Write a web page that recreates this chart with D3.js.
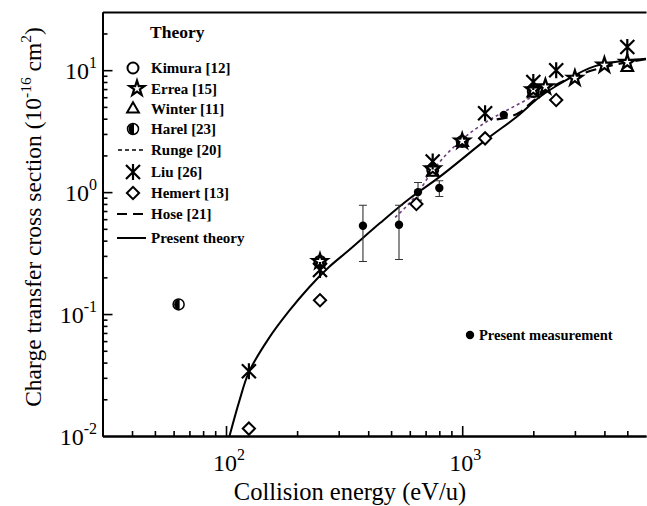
<!DOCTYPE html>
<html>
<head>
<meta charset="utf-8">
<script src="https://cdn.jsdelivr.net/npm/d3@7"></script>
<style>
  body { margin: 0; background: #fff; }
  svg { display: block; font-family: "Liberation Serif", "Times New Roman", serif; }
</style>
</head>
<body>
<div id="chart"></div>
<script>
// ---- data (energy in eV/u, cross section in 1e-16 cm^2)
const kimuraE = [250, 750, 1000, 2000];
const kimuraV = [0.27, 1.52, 2.6, 6.7];

const erreaE = [250, 750, 1000, 2000, 2250, 3000, 4000, 5000];
const erreaV = [0.27, 1.55, 2.62, 6.9, 7.3, 8.6, 11.0, 11.6];

const winterE = [750, 1000, 2000, 5000];
const winterV = [1.45, 2.55, 6.5, 10.5];

const harelE = [63, 250];
const harelV = [0.12, 0.265];

const liuE = [125, 250, 750, 1250, 2000, 2500, 5000];
const liuV = [0.034, 0.23, 1.78, 4.43, 8.0, 10.0, 15.5];

const hemertE = [125, 250, 640, 1250, 2500];
const hemertV = [0.0115, 0.13, 0.8, 2.76, 5.7];

const measE = [250, 380, 540, 650, 800, 1500, 2000];
const measV = [0.26, 0.53, 0.54, 1.0, 1.08, 4.3, 6.6];
const measLo = [null, 0.27, 0.28, 0.86, 0.92, null, null];
const measHi = [null, 0.78, 0.78, 1.2, 1.24, null, null];

const rungeE = [520, 640, 750, 980, 1270, 1645, 2000];
const rungeV = [0.62, 0.95, 1.5, 2.62, 3.78, 5.0, 6.1];

const hoseE = [1400, 1750, 2000, 2500, 3000, 4000, 6000];
const hoseV = [3.95, 4.5, 5.6, 7.6, 8.9, 10.6, 12.3];

const theoryE = [102, 114, 125, 152, 185, 225, 273, 332, 450, 601, 805, 1286, 1702, 2135, 2673, 3650, 6000];
const theoryV = [0.009, 0.0195, 0.0334, 0.0635, 0.106, 0.166, 0.243, 0.335, 0.56, 0.89, 1.34, 2.77, 4.15, 6.05, 8.0, 10.8, 12.4];

const xMajor = [100, 1000];
const yMajor = [0.1, 1, 10];
const xLabels = [[100, "2"], [1000, "3"]];
const yLabels = [[0.01, "-2"], [0.1, "-1"], [1, "0"], [10, "1"]];

const width = 647, height = 506;
const mLeft = 102.5, mRight = 646, mTop = 12, mBottom = 436;

const svg = d3.select("#chart").append("svg")
  .attr("width", width)
  .attr("height", height)
  .style("background", "#fff");

const x = d3.scaleLog().domain([30, 6000]).range([mLeft, mRight]);
const y = d3.scaleLog().domain([0.01, 30]).range([mBottom, mTop]);

// minor ticks
let xMinor = [], yMinor = [];
[10, 100, 1000].forEach(d => { for (let k = 2; k <= 9; k++) { let v = d * k; if (v > 30 && v < 6000) xMinor.push(v); } });
[0.01, 0.1, 1, 10].forEach(d => { for (let k = 2; k <= 9; k++) { let v = d * k; if (v < 30) yMinor.push(v); } });

// axes (ticks point inside)
function axisG(ax, tx, ty) {
  let g = svg.append("g").attr("transform", `translate(${tx},${ty})`).call(ax);
  g.selectAll("line").attr("stroke", "#000").attr("stroke-width", 1.6);
  g.select(".domain").attr("stroke", "#000").attr("stroke-width", 2);
  return g;
}
axisG(d3.axisBottom(x).tickValues(xMajor).tickSize(-10).tickSizeOuter(0).tickFormat(""), 0, mBottom);
axisG(d3.axisBottom(x).tickValues(xMinor).tickSize(-5).tickSizeOuter(0).tickFormat(""), 0, mBottom);
axisG(d3.axisLeft(y).tickValues(yMajor).tickSize(-10).tickSizeOuter(0).tickFormat(""), mLeft, 0);
axisG(d3.axisLeft(y).tickValues(yMinor).tickSize(-5).tickSizeOuter(0).tickFormat(""), mLeft, 0);
axisG(d3.axisTop(x).tickValues([]).tickSizeOuter(0), 0, mTop);

// tick labels with superscripts
xLabels.forEach(([v, p]) => {
  let t = svg.append("text").attr("x", x(v) + 3).attr("y", 471)
    .attr("text-anchor", "middle").attr("font-size", 24);
  t.append("tspan").text("10");
  t.append("tspan").attr("dy", -11).attr("font-size", 16).text(p);
});
yLabels.forEach(([v, p]) => {
  let t = svg.append("text").attr("x", 97).attr("y", y(v) + 9)
    .attr("text-anchor", "end").attr("font-size", 24);
  t.append("tspan").text("10");
  t.append("tspan").attr("dy", -11).attr("font-size", 16).text(p);
});

// axis titles
svg.append("text").attr("x", 350).attr("y", 500).attr("text-anchor", "middle")
  .attr("font-size", 24.5).text("Collision energy (eV/u)");

let yt = svg.append("text").attr("transform", "translate(41,217) rotate(-90)")
  .attr("text-anchor", "middle").attr("font-size", 23.5);
yt.append("tspan").text("Charge transfer cross section (10");
yt.append("tspan").attr("dy", -10).attr("font-size", 15.5).text("-16");
yt.append("tspan").attr("dy", 10).text(" cm");
yt.append("tspan").attr("dy", -10).attr("font-size", 15.5).text("2");
yt.append("tspan").attr("dy", 10).text(")");

// clip for the curves
svg.append("clipPath").attr("id", "plotclip").append("rect")
  .attr("x", mLeft).attr("y", mTop).attr("width", mRight - mLeft + 2).attr("height", mBottom - mTop);

const plot = svg.append("g").attr("clip-path", "url(#plotclip)");

function curve(E, V, c) {
  return d3.line().x((d, i) => x(E[i])).y((d, i) => y(V[i])).curve(c || d3.curveMonotoneX)(E);
}

plot.append("path").attr("d", curve(theoryE, theoryV, d3.curveCatmullRom.alpha(0.5)))
  .attr("fill", "none").attr("stroke", "#000").attr("stroke-width", 2);
plot.append("path").attr("d", curve(hoseE, hoseV))
  .attr("fill", "none").attr("stroke", "#000").attr("stroke-width", 2.2).attr("stroke-dasharray", "11,6");
plot.append("path").attr("d", curve(rungeE, rungeV))
  .attr("fill", "none").attr("stroke", "#6e3f7e").attr("stroke-width", 1.6).attr("stroke-dasharray", "3,3");

// markers
function drawMark(g, type, cx, cy) {
  if (type == "circle") {
    g.append("circle").attr("cx", cx).attr("cy", cy).attr("r", 5.5)
      .attr("fill", "#fff").attr("stroke", "#000").attr("stroke-width", 2);
  } else if (type == "star") {
    g.append("path").attr("d", d3.symbol(d3.symbolStar, 70)()).attr("transform", `translate(${cx},${cy})`)
      .attr("fill", "#fff").attr("stroke", "#000").attr("stroke-width", 2.2);
  } else if (type == "triangle") {
    g.append("path").attr("d", d3.symbol(d3.symbolTriangle, 60)()).attr("transform", `translate(${cx},${cy})`)
      .attr("fill", "#fff").attr("stroke", "#000").attr("stroke-width", 2);
  } else if (type == "diamond") {
    g.append("path").attr("d", d3.symbol(d3.symbolSquare, 75)()).attr("transform", `translate(${cx},${cy}) rotate(45)`)
      .attr("fill", "#fff").attr("stroke", "#000").attr("stroke-width", 2);
  } else if (type == "half") {
    g.append("circle").attr("cx", cx).attr("cy", cy).attr("r", 5.5)
      .attr("fill", "#fff").attr("stroke", "#000").attr("stroke-width", 1.5);
    g.append("path").attr("d", `M${cx + 1},${cy - 5.5}A5.5,5.5 0 0 0 ${cx + 1},${cy + 5.5}Z`).attr("fill", "#000");
  } else if (type == "asterisk") {
    g.append("path")
      .attr("d", `M${cx},${cy - 8}V${cy + 8}M${cx - 7},${cy - 7}L${cx + 7},${cy + 7}M${cx - 7},${cy + 7}L${cx + 7},${cy - 7}`)
      .attr("stroke", "#000").attr("stroke-width", 2.2).attr("fill", "none");
  } else if (type == "dot") {
    g.append("circle").attr("cx", cx).attr("cy", cy).attr("r", 4.2).attr("fill", "#000");
  }
}

const marks = svg.append("g");

// error bars for the measurement
measE.forEach((e, i) => {
  if (measLo[i] == null) return;
  let cx = x(e);
  marks.append("path")
    .attr("d", `M${cx},${y(measLo[i])}V${y(measHi[i])}M${cx - 4},${y(measLo[i])}H${cx + 4}M${cx - 4},${y(measHi[i])}H${cx + 4}`)
    .attr("stroke", "#333").attr("stroke-width", 1.1).attr("fill", "none");
});

measE.forEach((e, i) => drawMark(marks, "dot", x(e), y(measV[i])));
hemertE.forEach((e, i) => drawMark(marks, "diamond", x(e), y(hemertV[i])));
harelE.forEach((e, i) => drawMark(marks, "half", x(e), y(harelV[i])));
kimuraE.forEach((e, i) => drawMark(marks, "circle", x(e), y(kimuraV[i])));
winterE.forEach((e, i) => drawMark(marks, "triangle", x(e), y(winterV[i])));
erreaE.forEach((e, i) => drawMark(marks, "star", x(e), y(erreaV[i])));
liuE.forEach((e, i) => drawMark(marks, "asterisk", x(e), y(liuV[i])));

// legend
const legend = svg.append("g").attr("font-weight", "bold").attr("font-size", 15);
legend.append("text").attr("x", 150).attr("y", 38).attr("font-size", 17.5).text("Theory");

const legendItems = [
  ["circle", "Kimura [12]"],
  ["star", "Errea [15]"],
  ["triangle", "Winter [11]"],
  ["half", "Harel [23]"],
  ["dotted", "Runge [20]"],
  ["asterisk", "Liu [26]"],
  ["diamond", "Hemert [13]"],
  ["dashed", "Hose [21]"],
  ["solid", "Present theory"]
];
const legendY = [68, 88.5, 109, 129, 150, 172, 193, 214, 238];

legendItems.forEach(([type, label], i) => {
  let ly = legendY[i];
  if (type == "dotted") {
    legend.append("line").attr("x1", 118).attr("x2", 146).attr("y1", ly).attr("y2", ly)
      .attr("stroke", "#000").attr("stroke-width", 1.6).attr("stroke-dasharray", "4,3");
  } else if (type == "dashed") {
    legend.append("line").attr("x1", 117).attr("x2", 143).attr("y1", ly).attr("y2", ly)
      .attr("stroke", "#000").attr("stroke-width", 2.2).attr("stroke-dasharray", "10,6");
  } else if (type == "solid") {
    legend.append("line").attr("x1", 117).attr("x2", 146).attr("y1", ly).attr("y2", ly)
      .attr("stroke", "#000").attr("stroke-width", 2);
  } else {
    drawMark(legend, type, type == "star" ? 137 : 133, ly);
  }
  legend.append("text").attr("x", 151).attr("y", ly + 5).text(label);
});

drawMark(svg, "dot", 470, 335);
svg.append("text").attr("x", 479).attr("y", 340).attr("font-size", 14.5).attr("font-weight", "bold")
  .text("Present measurement");
</script>
</body>
</html>
